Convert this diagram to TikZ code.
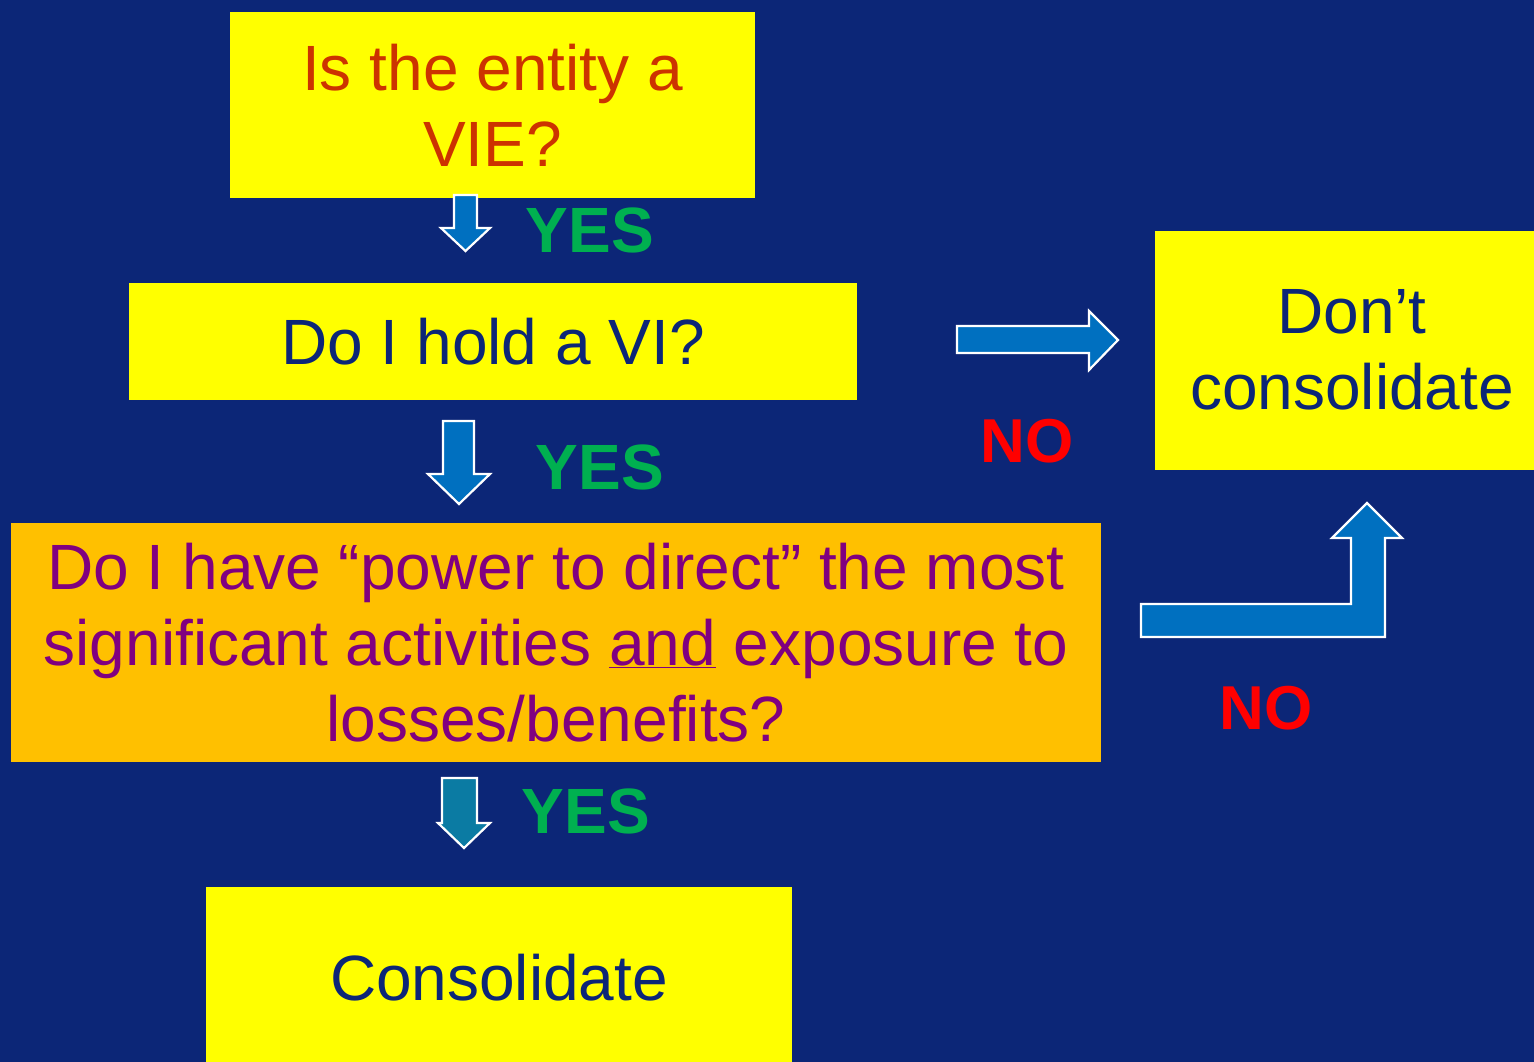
\documentclass[tikz,border=0pt]{standalone}
\usepackage{fontspec}
\setmainfont{Liberation Sans}
\definecolor{bg}{HTML}{0C2677}
\definecolor{ylw}{HTML}{FFFF00}
\definecolor{org}{HTML}{FFC000}
\definecolor{redtxt}{HTML}{CC3300}
\definecolor{navytxt}{HTML}{0C2677}
\definecolor{purp}{HTML}{800080}
\definecolor{yesg}{HTML}{00B050}
\definecolor{nor}{HTML}{FF0000}
\definecolor{arrb}{HTML}{0070C0}
\definecolor{arrt}{HTML}{0B7BA3}
\tikzset{
  box/.style={inner sep=0pt, align=center, font=\fontsize{64}{76}\selectfont},
  yeslbl/.style={text=yesg, font=\fontsize{64}{70}\selectfont\bfseries, inner sep=0pt},
  nolbl/.style={text=nor, font=\fontsize{62}{70}\selectfont\bfseries, inner sep=0pt},
  blockarrow/.style={fill=arrb, draw=white, line width=2.2pt, line join=miter},
}
\begin{document}
\begin{tikzpicture}[x=1pt,y=-1pt]
\fill[bg] (0,0) rectangle (1534,1062);
\useasboundingbox (0,0) rectangle (1534,1062);

% boxes
\node[box, fill=ylw, text=redtxt, minimum width=525pt, minimum height=186pt] (vie) at (492.5,105) {Is the entity a\\VIE?};
\node[box, fill=ylw, text=navytxt, minimum width=728pt, minimum height=117pt] (vi) at (493,341.5) {Do I hold a VI?};
\node[box, fill=org, text=purp, minimum width=1090pt, minimum height=239pt] (pow) at (556,642.5) {Do I have “power to direct” the most\\significant activities \underline{and} exposure to\\losses/benefits?};
\node[box, fill=ylw, text=navytxt, minimum width=586pt, minimum height=182pt] (cons) at (499,978) {Consolidate};
\node[box, fill=ylw, text=navytxt, minimum width=394pt, minimum height=239pt] (dont) at (1352,350) {Don’t\\consolidate};

% down arrow 1
\draw[blockarrow] (454,195) -- (477,195) -- (477,228) -- (490,228) -- (465.5,251) -- (441,228) -- (454,228) -- cycle;
\node[yeslbl] (yes1) at (590,230) {YES};
% down arrow 2
\draw[blockarrow] (443,421) -- (474,421) -- (474,474) -- (490,474) -- (459,504) -- (428,474) -- (443,474) -- cycle;
\node[yeslbl] (yes2) at (600,467) {YES};
% down arrow 3
\draw[blockarrow, fill=arrt] (442,778) -- (477,778) -- (477,823) -- (490,823) -- (464,848) -- (438,823) -- (442,823) -- cycle;
\node[yeslbl] (yes3) at (586,811) {YES};
% right arrow
\draw[blockarrow] (957,326) -- (1089,326) -- (1089,311) -- (1118,340) -- (1089,370) -- (1089,353) -- (957,353) -- cycle;
\node[nolbl] (no1) at (1027,441) {NO};
% bent arrow
\draw[blockarrow] (1141,604) -- (1351,604) -- (1351,538) -- (1332,538) -- (1367,503) -- (1402,538) -- (1385,538) -- (1385,637) -- (1141,637) -- cycle;
\node[nolbl] (no2) at (1266,708) {NO};
\end{tikzpicture}
\end{document}
